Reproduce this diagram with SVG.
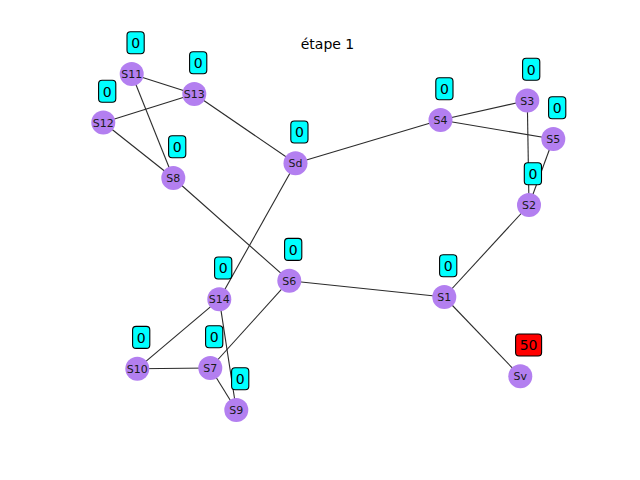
<svg xmlns="http://www.w3.org/2000/svg" width="640" height="480" viewBox="0 0 640 480">
<style>
.e{stroke:#2b2b2b;stroke-width:1.1;fill:none}
.n circle{fill:#b37ff0}
.n text.l{font-family:"DejaVu Sans",sans-serif;font-size:11px;fill:#1a1a1a;text-anchor:middle}
.b{fill:#00ffff;stroke:#000;stroke-width:1.1}
.r{fill:#ff0000;stroke:#000;stroke-width:1.1}
text.t{font-family:"DejaVu Sans",sans-serif;font-size:14px;fill:#000;text-anchor:middle}
</style>
<rect width="640" height="480" fill="#fff"/>
<text x="327.5" y="49" class="t">étape 1</text>
<g id="connectors">
<line class="e" x1="131.7" y1="74" x2="194.3" y2="94"/>
<line class="e" x1="131.7" y1="74" x2="173.3" y2="178"/>
<line class="e" x1="103.3" y1="122.5" x2="194.3" y2="94"/>
<line class="e" x1="103.3" y1="122.5" x2="173.3" y2="178"/>
<line class="e" x1="194.3" y1="94" x2="295.5" y2="163.3"/>
<line class="e" x1="295.5" y1="163.3" x2="440.5" y2="120"/>
<line class="e" x1="295.5" y1="163.3" x2="219.3" y2="299.3"/>
<line class="e" x1="440.5" y1="120" x2="527.3" y2="100.5"/>
<line class="e" x1="440.5" y1="120" x2="553.3" y2="139"/>
<line class="e" x1="527.3" y1="100.5" x2="529" y2="205"/>
<line class="e" x1="553.3" y1="139" x2="529" y2="205"/>
<line class="e" x1="529" y1="205" x2="444.3" y2="297"/>
<line class="e" x1="173.3" y1="178" x2="289.3" y2="280.7"/>
<line class="e" x1="289.3" y1="280.7" x2="444.3" y2="297"/>
<line class="e" x1="289.3" y1="280.7" x2="210.3" y2="368"/>
<line class="e" x1="219.3" y1="299.3" x2="137.3" y2="368.7"/>
<line class="e" x1="219.3" y1="299.3" x2="236.3" y2="410"/>
<line class="e" x1="137.3" y1="368.7" x2="210.3" y2="368"/>
<line class="e" x1="210.3" y1="368" x2="236.3" y2="410"/>
<line class="e" x1="444.3" y1="297" x2="520.3" y2="376.3"/>
</g>
<g id="S11" class="n"><circle cx="131.7" cy="74" r="12"/><text class="l" x="131.7" y="78">S11</text><rect class="b" x="127" y="31.7" width="17.2" height="22" rx="3.5"/><text class="t" x="135.6" y="48">0</text></g>
<g id="S13" class="n"><circle cx="194.3" cy="94" r="12"/><text class="l" x="194.3" y="98">S13</text><rect class="b" x="189.6" y="51.7" width="17.2" height="22" rx="3.5"/><text class="t" x="198.2" y="68">0</text></g>
<g id="S12" class="n"><circle cx="103.3" cy="122.5" r="12"/><text class="l" x="103.3" y="126.5">S12</text><rect class="b" x="98.6" y="80.2" width="17.2" height="22" rx="3.5"/><text class="t" x="107.2" y="96.5">0</text></g>
<g id="S8" class="n"><circle cx="173.3" cy="178" r="12"/><text class="l" x="173.3" y="182">S8</text><rect class="b" x="168.6" y="135.7" width="17.2" height="22" rx="3.5"/><text class="t" x="177.2" y="152">0</text></g>
<g id="Sd" class="n"><circle cx="295.5" cy="163.3" r="12"/><text class="l" x="295.5" y="167.3">Sd</text><rect class="b" x="290.8" y="121" width="17.2" height="22" rx="3.5"/><text class="t" x="299.4" y="137.3">0</text></g>
<g id="S4" class="n"><circle cx="440.5" cy="120" r="12"/><text class="l" x="440.5" y="124">S4</text><rect class="b" x="435.8" y="77.7" width="17.2" height="22" rx="3.5"/><text class="t" x="444.4" y="94">0</text></g>
<g id="S3" class="n"><circle cx="527.3" cy="100.5" r="12"/><text class="l" x="527.3" y="104.5">S3</text><rect class="b" x="522.6" y="58.2" width="17.2" height="22" rx="3.5"/><text class="t" x="531.2" y="74.5">0</text></g>
<g id="S5" class="n"><circle cx="553.3" cy="139" r="12"/><text class="l" x="553.3" y="143">S5</text><rect class="b" x="548.6" y="96.7" width="17.2" height="22" rx="3.5"/><text class="t" x="557.2" y="113">0</text></g>
<g id="S2" class="n"><circle cx="529" cy="205" r="12"/><text class="l" x="529" y="209">S2</text><rect class="b" x="524.3" y="162.7" width="17.2" height="22" rx="3.5"/><text class="t" x="532.9" y="179">0</text></g>
<g id="S6" class="n"><circle cx="289.3" cy="280.7" r="12"/><text class="l" x="289.3" y="284.7">S6</text><rect class="b" x="284.6" y="238.4" width="17.2" height="22" rx="3.5"/><text class="t" x="293.2" y="254.7">0</text></g>
<g id="S1" class="n"><circle cx="444.3" cy="297" r="12"/><text class="l" x="444.3" y="301">S1</text><rect class="b" x="439.6" y="254.7" width="17.2" height="22" rx="3.5"/><text class="t" x="448.2" y="271">0</text></g>
<g id="S14" class="n"><circle cx="219.3" cy="299.3" r="12"/><text class="l" x="219.3" y="303.3">S14</text><rect class="b" x="214.6" y="257" width="17.2" height="22" rx="3.5"/><text class="t" x="223.2" y="273.3">0</text></g>
<g id="S10" class="n"><circle cx="137.3" cy="368.7" r="12"/><text class="l" x="137.3" y="372.7">S10</text><rect class="b" x="132.6" y="326.4" width="17.2" height="22" rx="3.5"/><text class="t" x="141.2" y="342.7">0</text></g>
<g id="S7" class="n"><circle cx="210.3" cy="368" r="12"/><text class="l" x="210.3" y="372">S7</text><rect class="b" x="205.6" y="325.7" width="17.2" height="22" rx="3.5"/><text class="t" x="214.2" y="342">0</text></g>
<g id="S9" class="n"><circle cx="236.3" cy="410" r="12"/><text class="l" x="236.3" y="414">S9</text><rect class="b" x="231.6" y="367.7" width="17.2" height="22" rx="3.5"/><text class="t" x="240.2" y="384">0</text></g>
<g id="Sv" class="n"><circle cx="520.3" cy="376.3" r="12"/><text class="l" x="520.3" y="380.3">Sv</text><rect class="r" x="515.6" y="334" width="26" height="22" rx="3.5"/><text class="t" x="528.6" y="350.3">50</text></g>
</svg>
